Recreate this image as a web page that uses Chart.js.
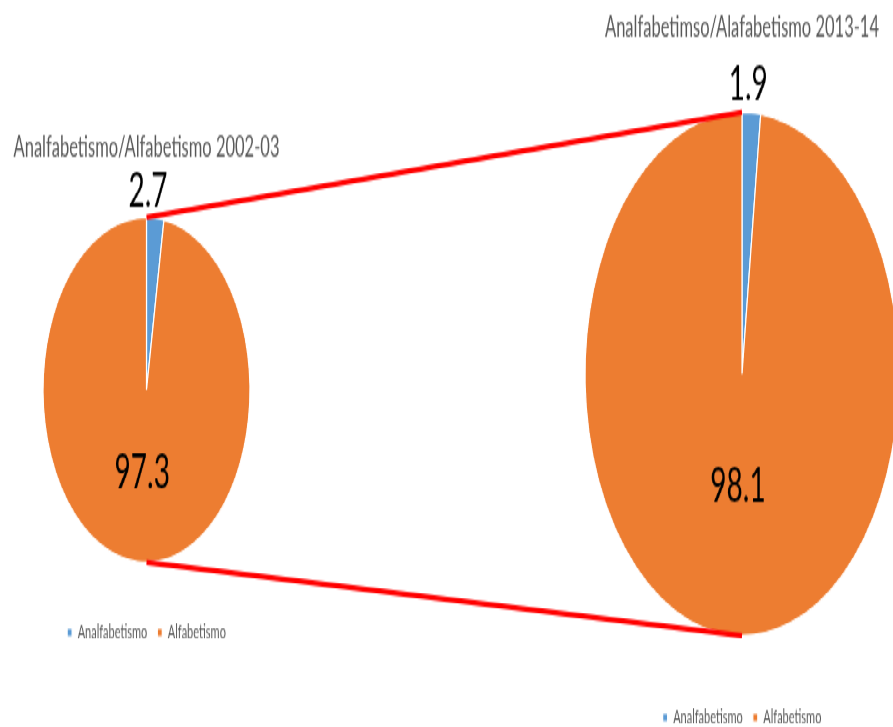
<!DOCTYPE html>
<html><head><meta charset="utf-8">
<script src="https://cdn.jsdelivr.net/npm/chart.js@4.4.1/dist/chart.umd.min.js"></script>
<style>
html,body{margin:0;padding:0;overflow:hidden;background:#fff;width:893px;height:727px}
#stage{position:absolute;left:0;top:0;width:893px;height:446px;transform:scaleY(1.6667);transform-origin:0 0}
#c1{position:absolute;left:0;top:0}
#c2{position:absolute;left:570px;top:0}
#ov{position:absolute;left:0;top:0;pointer-events:none}
</style></head><body>
<div id="stage">
<canvas id="c1" width="293" height="436"></canvas>
<canvas id="c2" width="344" height="446"></canvas>
<canvas id="ov" width="893" height="446"></canvas>
</div>
<script>
const categories = ['Analfabetismo', 'Alfabetismo'];
const values2002 = [2.7, 97.3];
const values2013 = [1.9, 98.1];
const titleLeft = 'Analfabetismo/Alfabetismo 2002-03';
const titleRight = 'Analfabetimso/Alafabetismo 2013-14';
const sliceColors = ['#5B9BD5', '#ED7D31'];

const labelPlugin = {
  id: 'sliceLabels',
  afterDatasetsDraw(chart, args, opts) {
    const ctx = chart.ctx;
    const meta = chart.getDatasetMeta(0);
    const data = chart.data.datasets[0].data;
    ctx.save();
    ctx.font = `${opts.size}px Lato, sans-serif`;
    ctx.fillStyle = '#000';
    ctx.textAlign = 'center';
    ctx.textBaseline = 'middle';
    meta.data.forEach((arc, i) => {
      const v = data[i];
      const mid = (arc.startAngle + arc.endAngle) / 2;
      let x, y;
      if (v < 10) {
        const rr = arc.outerRadius + opts.outside;
        x = arc.x + Math.cos(mid) * rr * opts.outsideX;
        y = arc.y + Math.sin(mid) * rr;
      } else {
        const rr = arc.outerRadius * opts.inside;
        x = arc.x + Math.cos(mid) * rr;
        y = arc.y + Math.sin(mid) * rr;
      }
      ctx.fillText(v.toFixed(1), x, y);
    });
    ctx.restore();
  }
};

function makeChart(id, values, title, radius, pad, titlePadBottom, labelOpts) {
  return new Chart(document.getElementById(id), {
    type: 'pie',
    data: {
      labels: categories,
      datasets: [{
        data: values,
        backgroundColor: sliceColors,
        borderColor: '#fff',
        borderWidth: 1.2,
        radius: radius
      }]
    },
    options: {
      responsive: false,
      devicePixelRatio: 1,
      animation: false,
      layout: { padding: pad },
      plugins: {
        title: {
          display: true, text: title, color: '#595959',
          font: { family: 'Lato', size: 16.5, weight: 'normal' },
          padding: { top: 0, bottom: titlePadBottom }
        },
        legend: {
          position: 'bottom',
          labels: {
            boxWidth: 5, boxHeight: 5, padding: 10, color: '#595959',
            font: { family: 'Lato', size: 11 }
          }
        },
        tooltip: { enabled: false },
        sliceLabels: labelOpts
      }
    },
    plugins: [labelPlugin]
  });
}

const left = makeChart('c1', values2002, titleLeft, 103.5, { top: 79, bottom: 41 }, 5,
  { size: 28, outside: 16, outsideX: 0.15, inside: 0.49 });
const right = makeChart('c2', values2013, titleRight, 157, { top: 7, bottom: 0 }, 7,
  { size: 28, outside: 17, outsideX: 0.6, inside: 0.43 });

function drawConnectors() {
  const ov = document.getElementById('ov');
  const ctx = ov.getContext('2d');
  const a = left.getDatasetMeta(0).data[0];
  const b = right.getDatasetMeta(0).data[0];
  const off1 = 0, off2 = 570;
  ctx.strokeStyle = '#FF0000';
  ctx.lineWidth = 3.4;
  ctx.lineCap = 'butt';
  ctx.beginPath();
  ctx.moveTo(off1 + a.x, a.y - a.outerRadius);
  ctx.lineTo(off2 + b.x, b.y - b.outerRadius);
  ctx.moveTo(off1 + a.x, a.y + a.outerRadius);
  ctx.lineTo(off2 + b.x, b.y + b.outerRadius);
  ctx.stroke();
}
drawConnectors();
</script>
</body></html>
